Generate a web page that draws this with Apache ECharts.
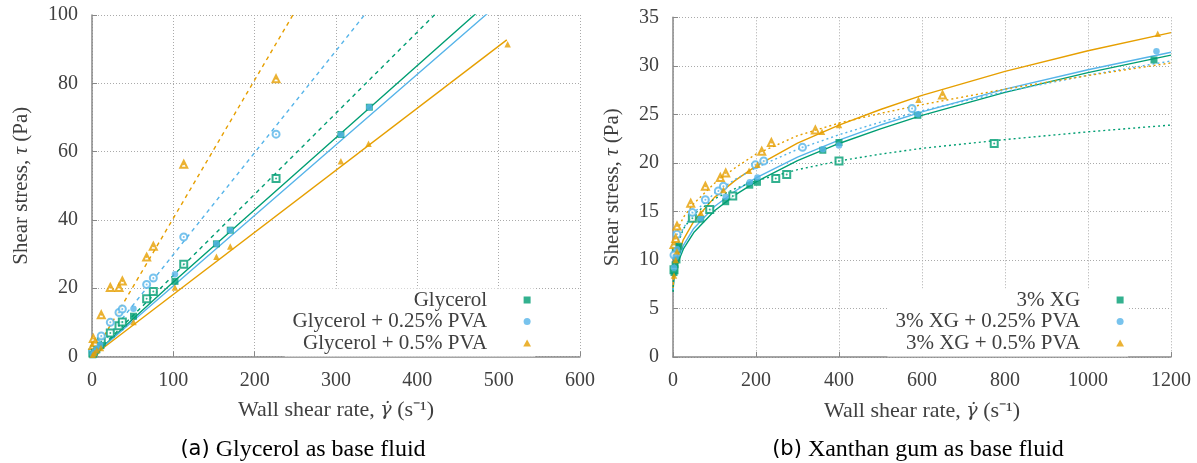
<!DOCTYPE html>
<html>
<head>
<meta charset="utf-8">
<script src="https://cdn.jsdelivr.net/npm/echarts@6/dist/echarts.min.js"></script>
<style>
html, body { margin: 0; padding: 0; background: #fff; }
#main { width: 1197px; height: 463px; }
</style>
</head>
<body>
<div id="main"></div>
<script>
// ---- (a) glycerol as base fluid : measured points [shear rate, stress] ----
const glyA   = [[1,0.5],[3,1.2],[6,2.0],[11,3.2],[51,11.8],[102,22.0],[153,33.0],[170,37.0],[306,65.0],[341,73.0]];
const gly25A = [[1,0.6],[3,1.4],[6,2.3],[10,3.4],[51,14.0],[102,24.1],[153,33.0],[170,37.0],[306,65.0],[341,73.0]];
const gly50A = [[1,0.5],[3,1.0],[6,1.8],[11,2.5],[51,10.1],[102,20.2],[153,29.2],[170,32.2],[306,57.2],[340,62.3],[511,91.4]];
const glyB   = [[1,1.0],[3,2.0],[6,3.0],[11.4,4.3],[22.5,6.9],[33.2,9.0],[37.3,10.1],[67.2,16.9],[75.4,19.0],[112.8,27.0],[226.3,52.1]];
const gly25B = [[1,1.5],[3,2.5],[6,3.8],[11.4,6.0],[22.5,10.0],[33.2,12.9],[37.3,13.9],[67.2,21.1],[75.4,23.0],[112.8,35.0],[226.3,65.1]];
const gly50B = [[1,3.2],[1.6,5.3],[4,4.0],[11.4,12.2],[22.5,20.2],[33.2,20.2],[37.3,22.1],[67.2,29.1],[75.4,32.3],[112.8,56.3],[226.3,81.3]];
// fitted lines
const glyFitA   = [[0,0],[100,21.8],[470,100],[510,108.5]];
const gly25FitA = [[0,0],[484,100],[510,105.4]];
const gly50FitA = [[0,0],[510,92.7]];
const glyFitB   = [[0,0],[421,100],[450,106.9]];
const gly25FitB = [[0,0],[335,100],[360,107.5]];
const gly50FitB = [[0,0],[247,100],[260,105.3]];

// ---- (b) xanthan gum as base fluid ----
const xgA   = [[2.4,8.7],[5,9.5],[9.6,10.0],[14.5,11.4],[66.8,14.2],[127,16.0],[185,17.7],[203.5,18.0],[361,21.3],[400,22.1],[590,24.9],[1159,30.6]];
const xg25A = [[2.4,9.2],[6.5,10.3],[9.6,11.1],[66.8,14.3],[127,16.5],[185,18.0],[203.5,18.5],[361,21.4],[400,21.8],[590,25.0],[1165,31.5]];
const xg50A = [[2.4,8.4],[6.5,10.0],[9.6,10.9],[66.8,14.85],[121.5,17.2],[183.3,19.2],[203.5,19.8],[359,23.2],[400,23.9],[591.5,26.5],[1168,33.3]];
const xgB   = [[2.4,9.0],[8,11.2],[46.7,14.3],[88.5,15.2],[144,16.6],[247.6,18.4],[274,18.8],[400,20.2],[774,22.0]];
const xg25B = [[2.4,10.5],[9.6,12.65],[46.7,14.9],[78,16.2],[109.3,17.1],[121.5,17.6],[198.6,19.8],[218.6,20.2],[312,21.6],[576,25.6]];
const xg50B = [[2.4,11.6],[6.5,12.2],[9.6,13.5],[42.7,15.85],[78,17.6],[114,18.5],[127,18.97],[213.8,21.2],[237,22.1],[343,23.4],[649.5,27.0]];
// fitted curves
const xgFitX    = [0.3, 1, 2, 5, 10, 25, 50, 100, 150, 200, 300, 400, 500, 600, 800, 1000, 1200];
const xgFitA    = [6.84, 7.37, 7.82, 8.65, 9.53, 11.13, 12.82, 15.07, 16.7, 18.04, 20.23, 22.0, 23.5, 24.9, 27.27, 29.3, 31.1];
const xg25FitA  = [6.9, 7.5, 8.0, 8.9, 9.85, 11.5, 13.25, 15.5, 17.1, 18.45, 20.6, 22.35, 23.9, 25.25, 27.6, 29.6, 31.4];
const xg50FitA  = [7.1, 7.75, 8.29, 9.27, 10.28, 12.1, 13.98, 16.45, 18.2, 19.66, 22.04, 23.9, 25.5, 26.96, 29.43, 31.55, 33.42];
const xgFitB    = [6.7, 8.07, 8.97, 10.3, 11.5, 13.2, 14.7, 16.3, 17.35, 18.15, 19.3, 20.2, 20.9, 21.5, 22.4, 23.2, 23.9];
const xg25FitB  = [9.0, 9.59, 10.06, 10.9, 11.75, 13.29, 14.85, 16.88, 18.3, 19.5, 21.4, 22.9, 24.2, 25.37, 27.34, 29.03, 30.5];
const xg50FitB  = [10.0, 10.5, 11.4, 12.2, 13.0, 14.4, 15.8, 17.9, 19.5, 20.9, 22.8, 24.1, 25.1, 26.0, 27.6, 29.0, 30.3];

const namesA = ['Glycerol', 'Glycerol + 0.25% PVA', 'Glycerol + 0.5% PVA'];
const namesB = ['3% XG', '3% XG + 0.25% PVA', '3% XG + 0.5% PVA'];

const GREEN = '#009E73', BLUE = '#56B4E9', ORANGE = '#E69F00';
const FONT = 'Liberation Serif';
const TXT = '#404040';
const SQ = 'path://M0,0H10V10H0Z';
const TRI = 'path://M5,0L10,9H0Z';

const zip = (xs, ys) => xs.map((x, i) => [x, ys[i]]);

function xAxis(grid, max, interval) {
    return {
        type: 'value', gridIndex: grid, min: 0, max: max, interval: interval,
        name: 'Wall shear rate, {i|γ̇} (s⁻¹)', nameLocation: 'middle', nameGap: 43,
        nameTextStyle: { fontFamily: FONT, fontSize: 22, color: TXT,
            rich: { i: { fontFamily: 'DejaVu Serif', fontSize: 19, fontStyle: 'italic', color: TXT } } },
        axisLine: { onZero: false, lineStyle: { color: '#888', width: 1.5 } },
        axisTick: { inside: true, length: 5, lineStyle: { color: '#888' } },
        axisLabel: { fontFamily: FONT, fontSize: 20, color: TXT, margin: 14, formatter: v => String(v) },
        splitLine: { show: true, lineStyle: { color: '#aaa', type: [1, 2] } }
    };
}
function yAxis(grid, max, interval, gap) {
    return {
        type: 'value', gridIndex: grid, min: 0, max: max, interval: interval,
        name: 'Shear stress, {i|τ} (Pa)', nameLocation: 'middle', nameGap: gap,
        nameTextStyle: { fontFamily: FONT, fontSize: 21, color: TXT,
            rich: { i: { fontFamily: FONT, fontSize: 21, fontStyle: 'italic', color: TXT } } },
        axisLine: { onZero: false, lineStyle: { color: '#888', width: 1.5 } },
        axisTick: { inside: true, length: 5, lineStyle: { color: '#888' } },
        axisLabel: { fontFamily: FONT, fontSize: 20, color: TXT, margin: 14 },
        splitLine: { show: true, lineStyle: { color: '#aaa', type: [1, 2] } }
    };
}

function filled(name, grid, data, symbol, size, color) {
    return { type: 'scatter', name: name, xAxisIndex: grid, yAxisIndex: grid, data: data,
        symbol: symbol, symbolSize: size, itemStyle: { color: color }, z: 4 };
}
function open(grid, data, symbol, color) {
    return [
        { type: 'scatter', xAxisIndex: grid, yAxisIndex: grid, data: data, symbol: symbol,
          symbolSize: 7, itemStyle: { color: color, borderWidth: 1.1 }, z: 3 },
        { type: 'scatter', xAxisIndex: grid, yAxisIndex: grid, data: data, symbol: 'circle',
          symbolSize: 2, itemStyle: { color: color }, z: 3 }
    ];
}
function fit(grid, data, color, type) {
    return { type: 'line', xAxisIndex: grid, yAxisIndex: grid, data: data, showSymbol: false,
        lineStyle: { color: color, width: 1.4, type: type }, silent: true, z: 2 };
}
function legend(names, right, top) {
    return {
        orient: 'vertical', align: 'right', right: right, top: top,
        itemWidth: 70, itemHeight: 7, itemGap: 0.5,
        backgroundColor: '#fff', padding: [1, 4, 3, 8],
        textStyle: { fontFamily: FONT, fontSize: 21, color: TXT, lineHeight: 20 },
        data: [{ name: names[0], icon: SQ }, { name: names[1], icon: 'circle' }, { name: names[2], icon: TRI }]
    };
}

const option = {
    animation: false,
    backgroundColor: '#fff',
    grid: [
        { left: 92, top: 15, width: 488, height: 341.5 },
        { left: 673, top: 17.3, width: 498, height: 339.7 }
    ],
    xAxis: [xAxis(0, 600, 100), xAxis(1, 1200, 200)],
    yAxis: [yAxis(0, 100, 20, 60), yAxis(1, 35, 5, 50)],
    legend: [legend(namesA, 662, 288.5), legend(namesB, 69, 288.5)],
    series: [
        fit(0, glyFitA, GREEN, 'solid'),
        fit(0, gly25FitA, BLUE, 'solid'),
        fit(0, gly50FitA, ORANGE, 'solid'),
        fit(0, glyFitB, GREEN, [4, 4]),
        fit(0, gly25FitB, BLUE, [4, 4]),
        fit(0, gly50FitB, ORANGE, [4, 4]),
        ...open(0, glyB, 'emptyRect', GREEN),
        ...open(0, gly25B, 'emptyCircle', BLUE),
        ...open(0, gly50B, 'emptyTriangle', ORANGE),
        filled(namesA[0], 0, glyA, 'rect', 7, GREEN),
        filled(namesA[1], 0, gly25A, 'circle', 6.5, BLUE),
        filled(namesA[2], 0, gly50A, 'triangle', 6.5, ORANGE),

        fit(1, zip(xgFitX, xgFitA), GREEN, 'solid'),
        fit(1, zip(xgFitX, xg25FitA), BLUE, 'solid'),
        fit(1, zip(xgFitX, xg50FitA), ORANGE, 'solid'),
        fit(1, zip(xgFitX, xgFitB), GREEN, [2, 3]),
        fit(1, zip(xgFitX, xg25FitB), BLUE, [2, 3]),
        fit(1, zip(xgFitX, xg50FitB), ORANGE, [2, 3]),
        ...open(1, xgB, 'emptyRect', GREEN),
        ...open(1, xg25B, 'emptyCircle', BLUE),
        ...open(1, xg50B, 'emptyTriangle', ORANGE),
        filled(namesB[0], 1, xgA, 'rect', 7, GREEN),
        filled(namesB[1], 1, xg25A, 'circle', 6.5, BLUE),
        filled(namesB[2], 1, xg50A, 'triangle', 6.5, ORANGE)
    ],
    graphic: [
        { type: 'text', x: 303, y: 450, style: { text: '{s|(a)} Glycerol as base fluid',
            fontFamily: FONT, fontSize: 24, fill: '#000', align: 'center', verticalAlign: 'middle',
            rich: { s: { fontFamily: 'DejaVu Sans', fontSize: 21, fill: '#000' } } } },
        { type: 'text', x: 918, y: 450, style: { text: '{s|(b)} Xanthan gum as base fluid',
            fontFamily: FONT, fontSize: 24, fill: '#000', align: 'center', verticalAlign: 'middle',
            rich: { s: { fontFamily: 'DejaVu Sans', fontSize: 21, fill: '#000' } } } }
    ]
};

echarts.init(document.getElementById('main')).setOption(option);
</script>
</body>
</html>
